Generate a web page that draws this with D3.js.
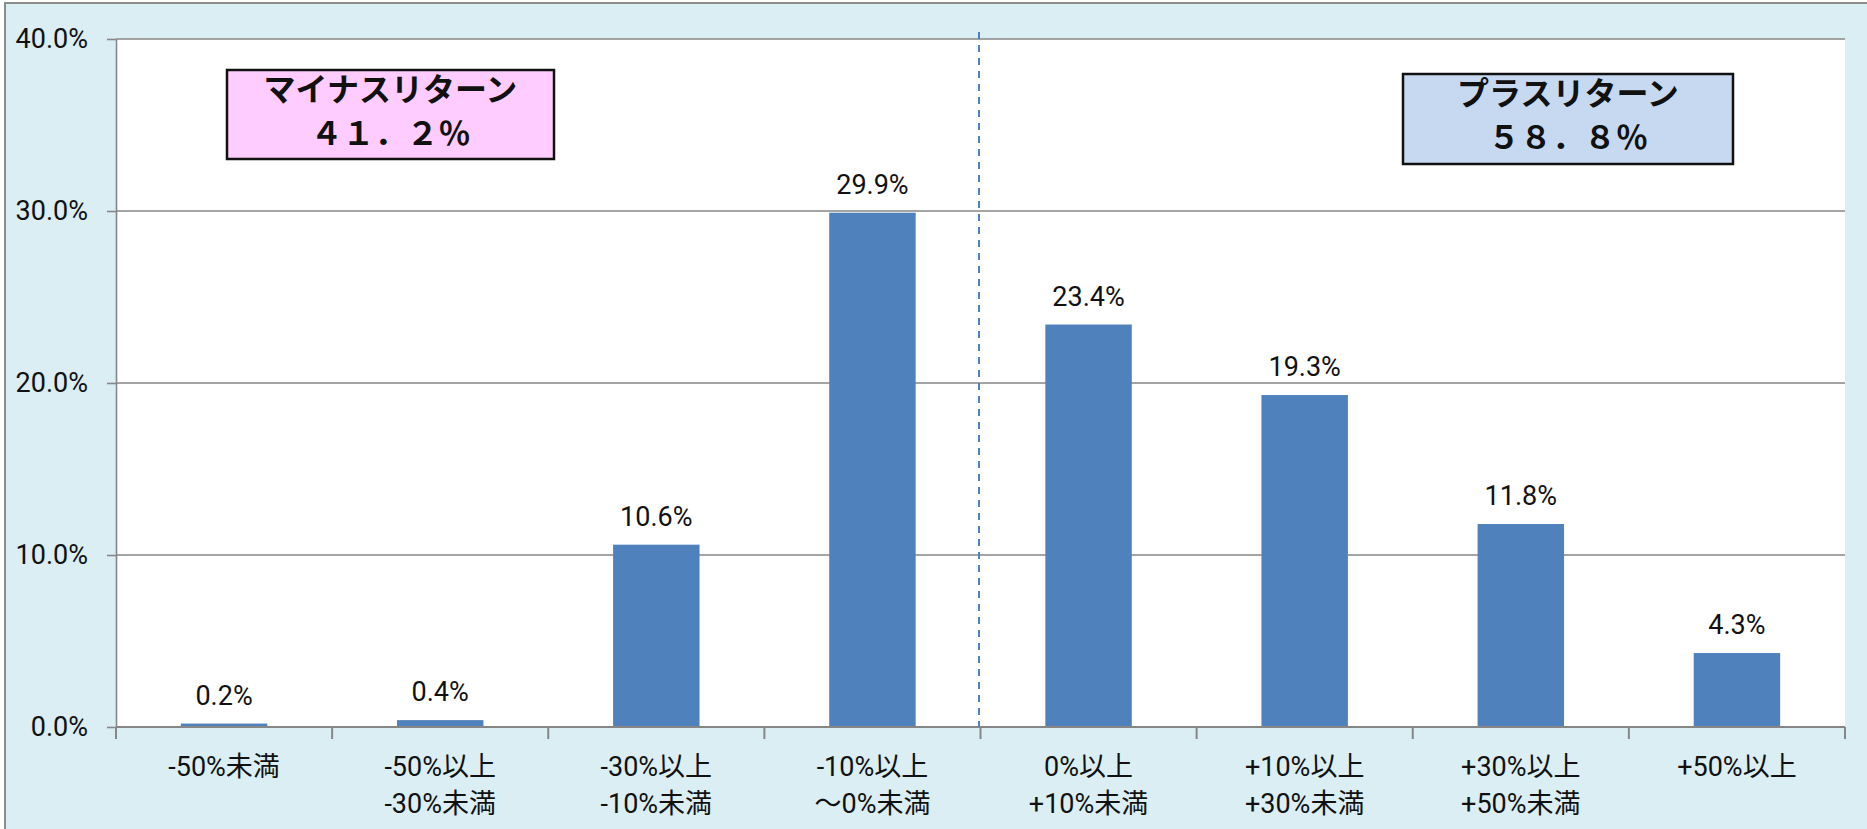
<!DOCTYPE html>
<html>
<head>
<meta charset="utf-8">
<script src="https://cdn.jsdelivr.net/npm/d3@7"></script>
<style>
  body { margin: 0; background: #fff; }
  text { font-family: Roboto, "Noto Sans CJK JP", sans-serif; font-weight: 400; fill: #111; }
</style>
</head>
<body>
<div id="viz"></div>
<script>
const width = 1867;
const height = 829;
const margin = {top: 39, right: 22, bottom: 102, left: 116};

// return buckets and share of results in each
const categories = [
  ['-50%未満'],
  ['-50%以上', '-30%未満'],
  ['-30%以上', '-10%未満'],
  ['-10%以上', '～0%未満'],
  ['0%以上', '+10%未満'],
  ['+10%以上', '+30%未満'],
  ['+30%以上', '+50%未満'],
  ['+50%以上']
];
const values = [0.2, 0.4, 10.6, 29.9, 23.4, 19.3, 11.8, 4.3];
const yTicks = [0, 10, 20, 30, 40];

// the two summary boxes
const boxes = [
  { lines: ['マイナスリターン', '４１．２％'], fill: '#FFCCFF', x0: 227, x1: 554, y0: 70, y1: 159 },
  { lines: ['プラスリターン', '５８．８％'], fill: '#C6D9F1', x0: 1403, x1: 1733, y0: 74, y1: 164 }
];

const keys = categories.map((c, i) => i);

const svg = d3.select('#viz')
  .append('svg')
    .attr('width', width)
    .attr('height', height);

// outer chart area
svg.append('rect')
    .attr('x', 5)
    .attr('y', 3)
    .attr('width', width)
    .attr('height', height)
    .attr('fill', '#DAEEF3')
    .attr('stroke', '#8c8c8c')
    .attr('stroke-width', 2);

const x = d3.scaleBand()
  .domain(keys)
  .range([margin.left, width - margin.right])
  .paddingInner(0.6)
  .paddingOuter(0.3);

const y = d3.scaleLinear()
  .domain([0, 40])
  .range([height - margin.bottom, margin.top]);

const step = x.step();
const boundary = i => x(i) - step * x.paddingInner() / 2; // left edge of category i

// plot area
svg.append('rect')
    .attr('x', margin.left)
    .attr('y', margin.top)
    .attr('width', width - margin.left - margin.right)
    .attr('height', height - margin.top - margin.bottom)
    .attr('fill', '#fff');

// gridlines
svg.append('g')
  .selectAll('line')
  .data(yTicks)
  .join('line')
    .attr('x1', margin.left)
    .attr('x2', width - margin.right)
    .attr('y1', d => y(d))
    .attr('y2', d => y(d))
    .attr('stroke', '#868686')
    .attr('stroke-width', 1.6);

// Y axis
const axisLeft = d3.axisLeft(y)
  .tickValues(yTicks)
  .tickSize(9)
  .tickSizeOuter(0)
  .tickPadding(19)
  .tickFormat(d => d.toFixed(1) + '%');
const yAxis = svg.append('g')
    .attr('transform', `translate(${margin.left},0)`)
    .call(axisLeft);
yAxis.selectAll('path, line').attr('stroke', '#868686').attr('stroke-width', 1.6);
yAxis.selectAll('text')
    .style('font-family', 'Roboto, "Noto Sans CJK JP", sans-serif')
    .style('font-size', '27px')
    .attr('fill', '#111');

// bars
svg.append('g')
  .selectAll('rect')
  .data(values)
  .join('rect')
    .attr('x', (d, i) => x(i))
    .attr('y', d => y(d))
    .attr('width', x.bandwidth())
    .attr('height', d => y(0) - y(d))
    .attr('fill', '#4F81BD');

// bar value labels
svg.append('g')
  .selectAll('text')
  .data(values)
  .join('text')
    .attr('x', (d, i) => x(i) + x.bandwidth() / 2)
    .attr('y', d => y(d) - 19)
    .attr('text-anchor', 'middle')
    .style('font-size', '27px')
    .text(d => d.toFixed(1) + '%');

// X axis line and boundary ticks
svg.append('line')
    .attr('x1', margin.left)
    .attr('x2', width - margin.right)
    .attr('y1', y(0))
    .attr('y2', y(0))
    .attr('stroke', '#868686')
    .attr('stroke-width', 2);
svg.append('g')
  .selectAll('line')
  .data(keys.map(boundary).concat([width - margin.right]))
  .join('line')
    .attr('x1', d => d)
    .attr('x2', d => d)
    .attr('y1', y(0))
    .attr('y2', y(0) + 12)
    .attr('stroke', '#868686')
    .attr('stroke-width', 2);

// category labels
const catLabels = svg.append('g')
  .selectAll('text')
  .data(categories)
  .join('text')
    .attr('text-anchor', 'middle')
    .style('font-size', '27px');
catLabels.selectAll('tspan')
  .data((d, i) => d.map(line => ({ line, i })))
  .join('tspan')
    .attr('x', d => x(d.i) + x.bandwidth() / 2)
    .attr('y', (d, j) => 776 + j * 37)
    .text(d => d.line);

// dashed divider between minus and plus returns
svg.append('line')
    .attr('x1', boundary(4) - 1.5)
    .attr('x2', boundary(4) - 1.5)
    .attr('y1', 32)
    .attr('y2', y(0))
    .attr('stroke', '#4F81BD')
    .attr('stroke-width', 2)
    .attr('stroke-dasharray', '7 6');

// summary boxes
const box = svg.append('g')
  .selectAll('g')
  .data(boxes)
  .join('g');
box.append('rect')
    .attr('x', d => d.x0)
    .attr('y', d => d.y0)
    .attr('width', d => d.x1 - d.x0)
    .attr('height', d => d.y1 - d.y0)
    .attr('fill', d => d.fill)
    .attr('stroke', '#111')
    .attr('stroke-width', 2.5);
box.selectAll('text')
  .data(d => d.lines.map((line, j) => ({ line, j, d })))
  .join('text')
    .attr('x', t => (t.d.x0 + t.d.x1) / 2)
    .attr('y', t => (t.d.y0 + t.d.y1) / 2 - 4 + (t.j === 0 ? -10 : 34))
    .attr('text-anchor', 'middle')
    .style('font-family', '"Noto Sans CJK JP", sans-serif')
    .style('font-size', '32px')
    .style('font-weight', 700)
    .text(t => t.line);
</script>
</body>
</html>
